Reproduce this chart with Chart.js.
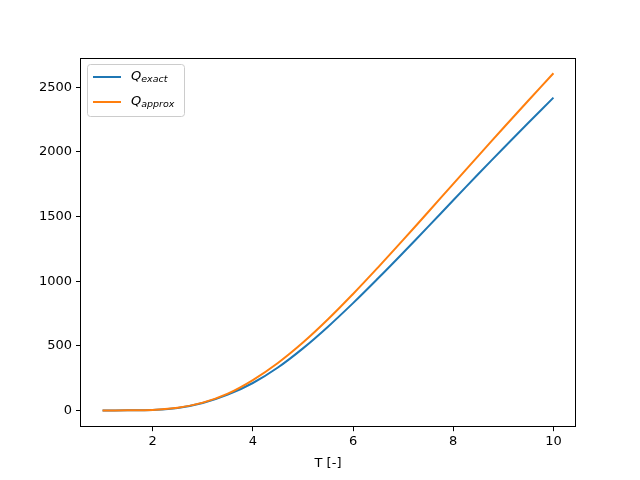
<!DOCTYPE html>
<html>
<head>
<meta charset="utf-8">
<script src="https://cdn.jsdelivr.net/npm/chart.js@4/dist/chart.umd.min.js"></script>
<style>
html,body{margin:0;padding:0;background:#fff;}
#wrap{width:640px;height:480px;position:relative;}
</style>
</head>
<body>
<div id="wrap"><canvas id="c" width="640" height="480"></canvas></div>
<script>
const T = [1, 1.5, 2, 2.5, 3, 3.5, 4, 4.5, 5, 5.5, 6, 6.5, 7, 7.5, 8, 8.5, 9, 9.5, 10];
const qExact = [0, 0.5, 4, 19, 57, 122, 212, 332, 480, 648, 830, 1022, 1220, 1422, 1626, 1829, 2029, 2226, 2420];
const qApprox = [0, 0.5, 4, 20, 60, 130, 235, 367, 525, 705, 901, 1107, 1319, 1535, 1753, 1970, 2185, 2398, 2609];
const xTicks = [2, 4, 6, 8, 10];
const yTicks = [0, 500, 1000, 1500, 2000, 2500];
const seriesNames = ['exact', 'approx'];
const xTitle = 'T [-]';

const colors = ['#1f77b4', '#ff7f0e'];
const FONT = 'DejaVu Sans';

const toPts = arr => arr.map((v, i) => ({x: T[i], y: v}));

const frame = {
  id: 'frame',
  afterDatasetsDraw(chart) {
    const a = chart.chartArea, ctx = chart.ctx;
    ctx.save();
    ctx.strokeStyle = '#000';
    ctx.lineWidth = 1;
    const l = Math.round(a.left) + 0.5, t = Math.round(a.top) + 0.5;
    const r = Math.round(a.right) - 0.5, b = Math.round(a.bottom) - 0.5;
    ctx.strokeRect(l, t, r - l, b - t);
    // legend
    const bx = 87.5, by = 64.5, bw = 97, bh = 52;
    ctx.fillStyle = 'rgba(255,255,255,0.8)';
    ctx.strokeStyle = '#cccccc';
    ctx.beginPath();
    if (ctx.roundRect) ctx.roundRect(bx, by, bw, bh, 3); else ctx.rect(bx, by, bw, bh);
    ctx.fill(); ctx.stroke();
    const rows = [77, 102];
    seriesNames.forEach((nm, i) => {
      const y = rows[i];
      ctx.strokeStyle = colors[i];
      ctx.lineWidth = 2;
      ctx.beginPath(); ctx.moveTo(93, y); ctx.lineTo(121, y); ctx.stroke();
      ctx.fillStyle = '#000';
      ctx.textBaseline = 'middle';
      ctx.textAlign = 'left';
      ctx.font = 'italic 13px "' + FONT + '"';
      ctx.fillText('Q', 131, y);
      const w = ctx.measureText('Q').width;
      ctx.font = 'italic 9.5px "' + FONT + '"';
      ctx.fillText(nm, 131 + w, y + 3);
    });
    ctx.restore();
  }
};

new Chart(document.getElementById('c'), {
  type: 'line',
  data: {
    datasets: [
      {label: 'Q_exact', data: toPts(qExact), borderColor: colors[0], borderWidth: 2, pointRadius: 0, tension: 0.4, fill: false, order: 1},
      {label: 'Q_approx', data: toPts(qApprox), borderColor: colors[1], borderWidth: 2, pointRadius: 0, tension: 0.4, fill: false, order: 0}
    ]
  },
  options: {
    responsive: false,
    animation: false,
    layout: {padding: {left: 0, right: 64, top: 57.6, bottom: 0}},
    plugins: {legend: {display: false}, tooltip: {enabled: false}},
    scales: {
      x: {
        type: 'linear', min: 0.55, max: 10.45,
        afterBuildTicks: s => { s.ticks = xTicks.map(v => ({value: v})); },
        afterFit: s => { s.height = 52.8; },
        grid: {drawOnChartArea: false, drawTicks: true, tickLength: 4, color: '#000'},
        border: {display: false},
        ticks: {color: '#000', font: {family: FONT, size: 13}, padding: 3, maxRotation: 0, autoSkip: false, callback: v => String(v)},
        title: {display: true, text: xTitle, color: '#000', font: {family: FONT, size: 13}, padding: {top: 0, bottom: 9}}
      },
      y: {
        type: 'linear', min: -130, max: 2730,
        afterBuildTicks: s => { s.ticks = yTicks.map(v => ({value: v})); },
        afterFit: s => { s.width = 80; },
        grid: {drawOnChartArea: false, drawTicks: true, tickLength: 4, color: '#000'},
        border: {display: false},
        ticks: {color: '#000', font: {family: FONT, size: 13}, padding: 4, autoSkip: false, callback: v => String(v)}
      }
    }
  },
  plugins: [frame]
});
</script>
</body>
</html>
